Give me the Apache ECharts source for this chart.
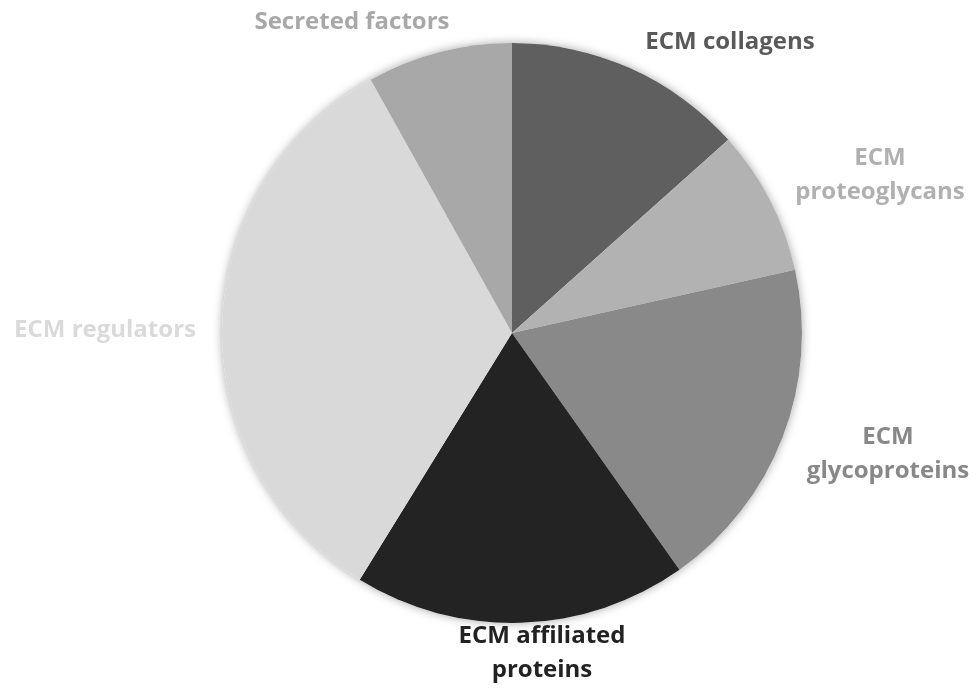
<!DOCTYPE html>
<html>
<head>
<meta charset="utf-8">
<script src="https://cdn.jsdelivr.net/npm/echarts@6/dist/echarts.min.js"></script>
<style>
html,body{margin:0;padding:0;background:#fff;}
#chart{width:980px;height:691px;}
</style>
</head>
<body>
<div id="chart"></div>
<script>
// Data (approximate shares, %)
const categories = ['ECM collagens', 'ECM proteoglycans', 'ECM glycoproteins', 'ECM affiliated proteins', 'ECM regulators', 'Secreted factors'];
const labelTexts = ['ECM collagens', 'ECM\nproteoglycans', 'ECM\nglycoproteins', 'ECM affiliated\nproteins', 'ECM regulators', 'Secreted factors'];
const values = [13.4, 8.1, 18.7, 18.6, 33.1, 8.1];

// Styles
const sliceColors = ['#5f5f5f', '#b2b2b2', '#898989', '#232323', '#d9d9d9', '#a8a8a8'];
const labelColors = ['#595959', '#b0b0b0', '#888888', '#222222', '#dadada', '#a8a8a8'];
const labelPos = [[730, 42], [880, 175], [888, 454], [542, 653], [105, 330], [352, 22]];

const chart = echarts.init(document.getElementById('chart'));
const total = values.reduce((a, b) => a + b, 0);
chart.setOption({
  animation: false,
  series: [
    {
      type: 'pie', silent: true, center: [512, 333], radius: 290, z: 1,
      label: {show: false}, labelLine: {show: false},
      itemStyle: {color: '#ffffff', shadowBlur: 10, shadowColor: 'rgba(0,0,0,0.35)'},
      data: [{value: total, name: 'all'}]
    },
    {
      type: 'pie', center: [512, 333], radius: 290, startAngle: 90, clockwise: true, z: 2,
      labelLine: {show: false},
      label: {
        show: true, position: 'outside', overflow: 'none',
        fontFamily: 'Open Sans', fontWeight: 'bold', fontSize: 24, lineHeight: 34,
        align: 'center', verticalAlign: 'middle',
        formatter: p => labelTexts[p.dataIndex]
      },
      labelLayout: p => ({x: labelPos[p.dataIndex][0], y: labelPos[p.dataIndex][1], align: 'center', verticalAlign: 'middle'}),
      data: categories.map((c, i) => ({
        name: c, value: values[i],
        itemStyle: {color: sliceColors[i]},
        label: {color: labelColors[i]}
      }))
    }
  ]
});
</script>
</body>
</html>
